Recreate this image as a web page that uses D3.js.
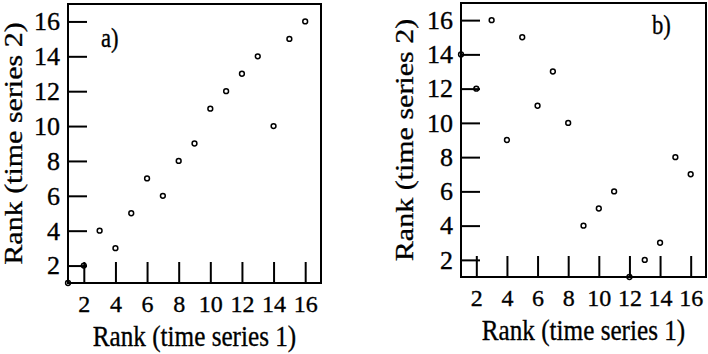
<!DOCTYPE html>
<html>
<head>
<meta charset="utf-8">
<script src="https://cdn.jsdelivr.net/npm/d3@7"></script>
<style>
  body { margin: 0; background: #fff; }
</style>
</head>
<body>
<svg id="chart" width="708" height="354"></svg>
<script>
// ranks of time series 1 (same for both panels)
const rank1 = [1, 2, 3, 4, 5, 6, 7, 8, 9, 10, 11, 12, 13, 14, 15, 16];
// ranks of time series 2
const rank2A = [1, 2, 4, 3, 5, 7, 6, 8, 9, 11, 12, 13, 14, 10, 15, 16];
const rank2B = [14, 12, 16, 9, 15, 11, 13, 10, 4, 5, 6, 1, 2, 3, 8, 7];
const tickVals = [2, 4, 6, 8, 10, 12, 14, 16];
const panelLabels = ["a)", "b)"];

const serif = "Liberation Serif";

const svg = d3.select("#chart");

const panels = [
  { ys: rank2A, label: panelLabels[0], left: 68, right: 321, top: 4, bottom: 283,
    labX: 101, labY: 47, yTitleX: 22, xTitleY: 346 },
  { ys: rank2B, label: panelLabels[1], left: 461, right: 706, top: 3, bottom: 277,
    labX: 652, labY: 34, yTitleX: 413, xTitleY: 340 }
];

// slightly heavier text, the scan is a bit thick
function ink(sel) {
  sel.attr("fill", "#000").attr("stroke", "#000").attr("stroke-width", 0.35)
    .style("font-family", serif);
}

panels.forEach(p => {
  const g = svg.append("g");
  const x = d3.scaleLinear().domain([1, 17]).range([p.left, p.right]);
  const y = d3.scaleLinear().domain([1, 17]).range([p.bottom, p.top]);

  // y axis, ticks point inward
  const yAxis = g.append("g")
    .attr("transform", `translate(${p.left},0)`)
    .call(d3.axisLeft(y).tickValues(tickVals).tickSizeInner(-19).tickSizeOuter(0).tickPadding(8));
  yAxis.select(".domain").remove();
  yAxis.selectAll("line").attr("stroke", "#000").attr("stroke-width", 2);
  yAxis.selectAll("text").call(ink).style("font-size", "26px");

  // x axis
  const xAxis = g.append("g")
    .attr("transform", `translate(0,${p.bottom})`)
    .call(d3.axisBottom(x).tickValues(tickVals).tickSizeInner(-21).tickSizeOuter(0).tickPadding(12));
  xAxis.select(".domain").remove();
  xAxis.selectAll("line").attr("stroke", "#000").attr("stroke-width", 2);
  xAxis.selectAll("text").call(ink).style("font-size", "24px");

  // frame
  g.append("rect")
    .attr("x", p.left).attr("y", p.top)
    .attr("width", p.right - p.left).attr("height", p.bottom - p.top)
    .attr("fill", "none").attr("stroke", "#000").attr("stroke-width", 2);

  // points
  g.selectAll("circle")
    .data(rank1.map((r, i) => [r, p.ys[i]]))
    .enter().append("circle")
    .attr("cx", d => x(d[0]))
    .attr("cy", d => y(d[1]))
    .attr("r", 2.4)
    .attr("fill", "none")
    .attr("stroke", "#000")
    .attr("stroke-width", 1.5);

  // panel label
  g.append("text")
    .attr("transform", `translate(${p.labX},${p.labY}) scale(0.84,1)`)
    .call(ink)
    .style("font-size", "27px")
    .text(p.label);

  // axis titles
  g.append("text")
    .attr("transform", `translate(${(p.left + p.right) / 2},${p.xTitleY}) scale(0.84,1)`)
    .attr("text-anchor", "middle")
    .call(ink)
    .style("font-size", "30px")
    .text("Rank (time series 1)");

  g.append("text")
    .attr("transform", `translate(${p.yTitleX},${(p.top + p.bottom) / 2}) scale(0.84,1) rotate(-90)`)
    .attr("text-anchor", "middle")
    .call(ink)
    .style("font-size", "30px")
    .text("Rank (time series 2)");
});
</script>
</body>
</html>
